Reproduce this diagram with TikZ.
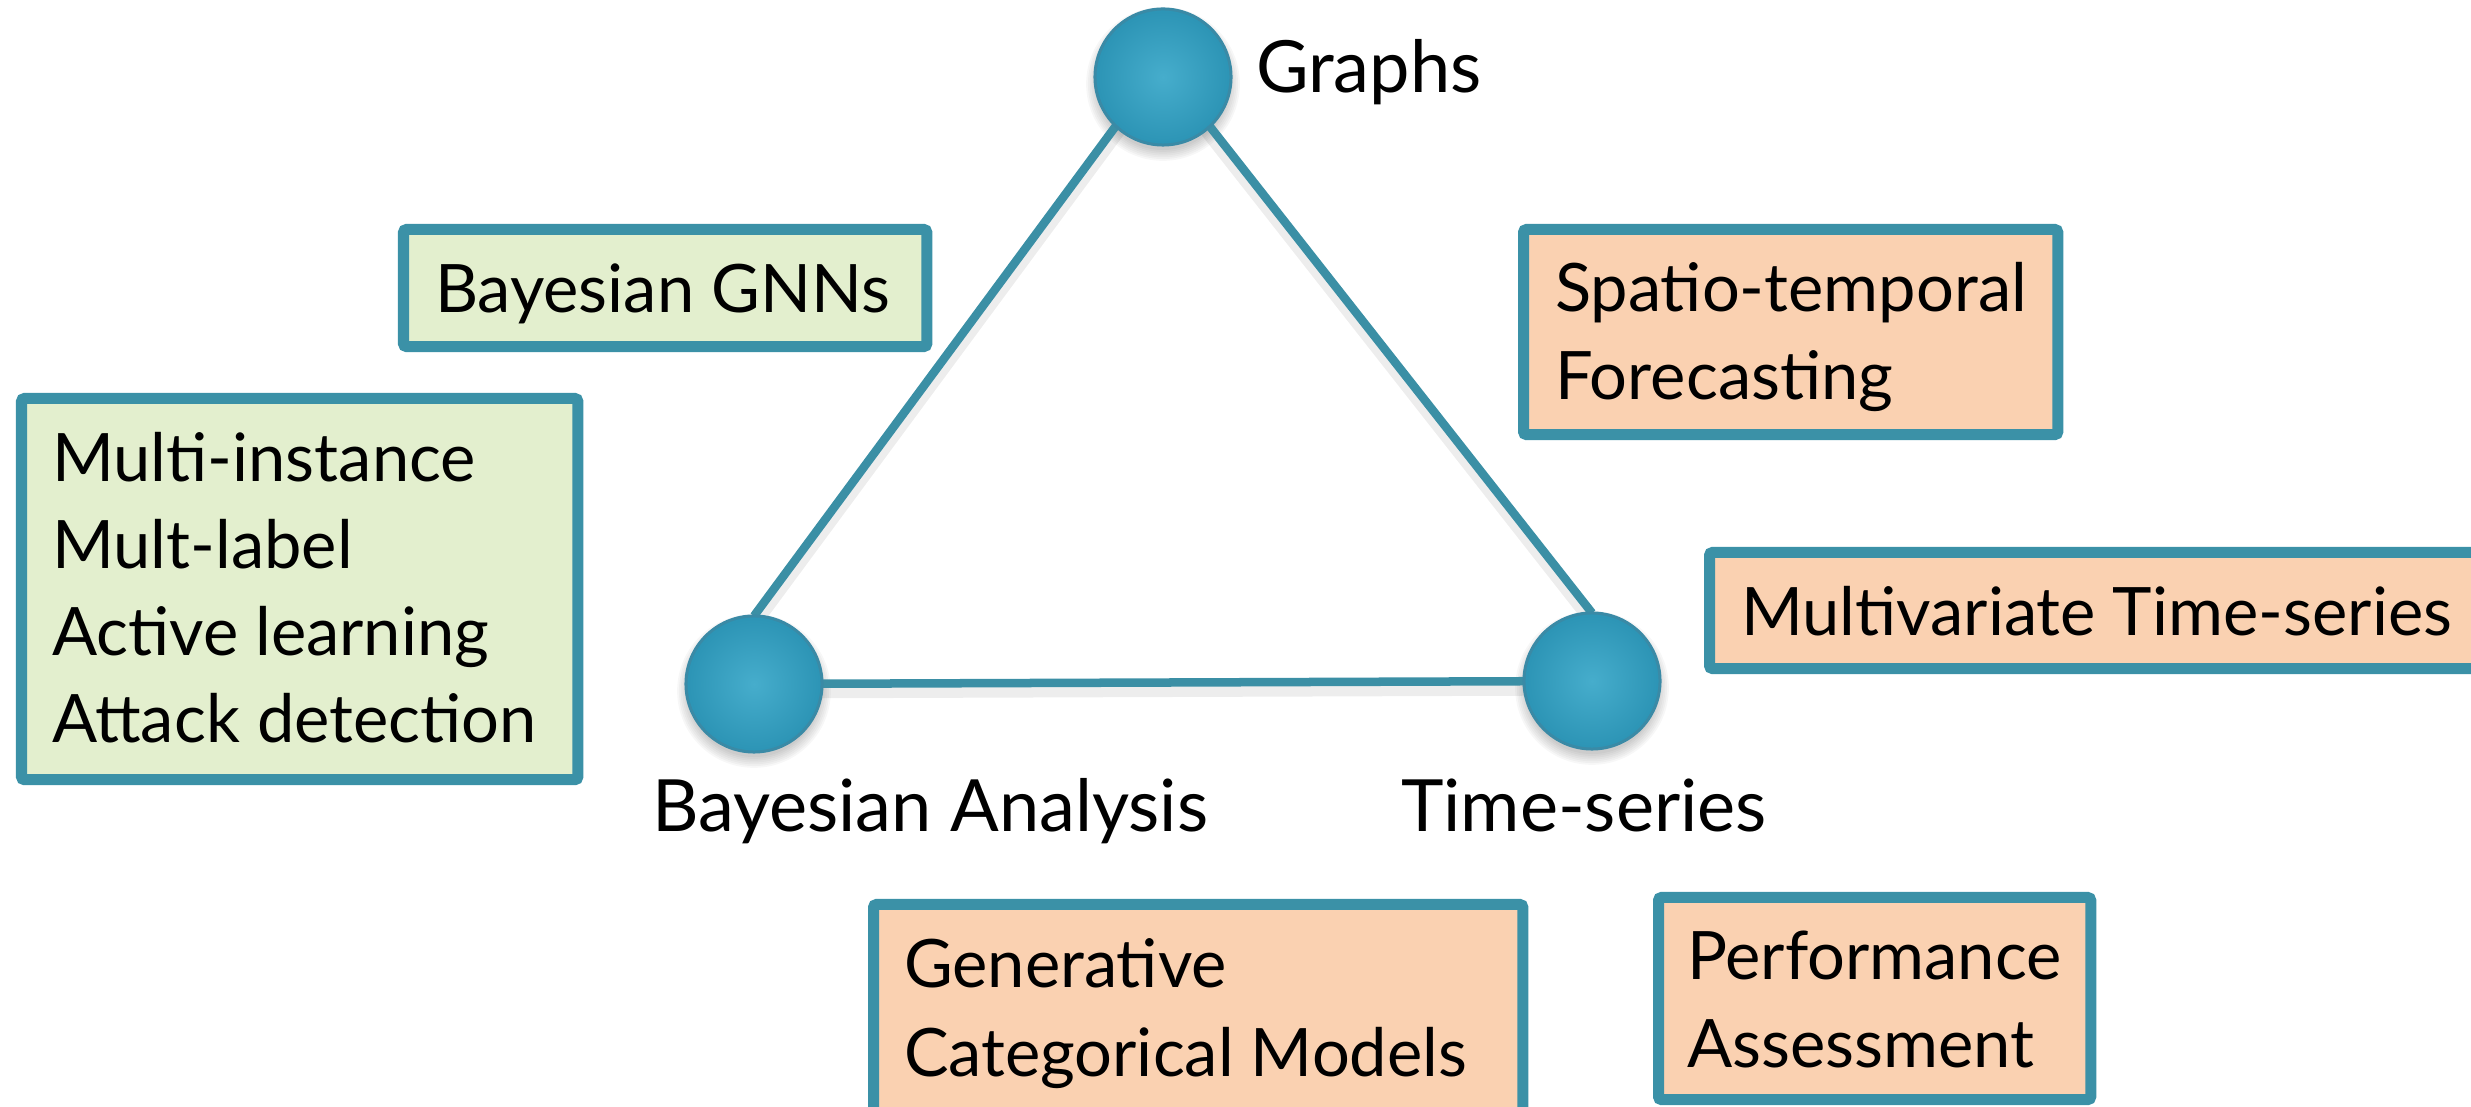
\documentclass[tikz,border=0pt]{standalone}
\usepackage{fontspec}
\setmainfont{Lato}
\usetikzlibrary{backgrounds}
\definecolor{frame}{HTML}{3B91A7}
\definecolor{greenfill}{HTML}{E3EFCE}
\definecolor{orangefill}{HTML}{FAD1B1}
\definecolor{hublight}{HTML}{46ADCC}
\definecolor{hubdark}{HTML}{2C94B5}
\definecolor{hubedge}{HTML}{3A8AA6}
\definecolor{linkc}{HTML}{3B8FA5}
\begin{document}
\begin{tikzpicture}[x=0.01cm,y=-0.01cm,
  every node/.style={font=\fontsize{19}{25}\selectfont, inner sep=0pt, outer sep=0pt},
  txt/.style={anchor=base west},
  toplabel/.style={anchor=base west, font=\fontsize{20.5}{25}\selectfont},
  hub/.style={circle, minimum size=1.36cm, draw=hubedge, line width=0.03cm,
    inner color=hublight, outer color=hubdark},
  link/.style={draw=linkc, line width=0.085cm},
  linkshade/.style={draw=black, opacity=0.07, line width=0.15cm},
  panel/.style={draw=frame, line width=0.11cm, rounded corners=0.03cm, anchor=north west},
  greenbox/.style={panel, fill=greenfill},
  orangebox/.style={panel, fill=orangefill}]
\clip (0,0) rectangle (2471,1107);

% the three topics
\node[hub] (G)  at (1163,77)  {};
\node[hub] (BA) at (754,684)  {};
\node[hub] (TS) at (1592,681) {};

\begin{scope}[on background layer]
  % soft shadows under the hubs
  \foreach \h in {G,BA,TS}{
    \foreach \k in {0,...,6}{
      \fill[black, opacity=0.03] ([yshift=-0.07cm]\h.center) circle[radius=0.66cm+\k*0.018cm];
    }
  }
  % shadows under the edges
  \begin{scope}[transform canvas={yshift=-0.07cm}]
    \draw[linkshade] ([xshift=-0.11cm]G.center) -- (BA.north);
    \draw[linkshade] ([xshift=0.08cm]G.center) -- (TS.north);
    \draw[linkshade] (BA.center) -- (TS.center);
  \end{scope}
  % edges of the triangle
  \draw[link] ([xshift=-0.11cm]G.center) -- (BA.north);
  \draw[link] ([xshift=0.08cm]G.center) -- (TS.north);
  \draw[link] (BA.center) -- (TS.center);
\end{scope}

% topic labels
\node[toplabel] (lG)  at (1256,93)  {Graphs};
\node[toplabel] (lBA) at (652,832)  {Bayesian Analysis};
\node[toplabel] (lTS) at (1401,832) {Time-series};

% Bayesian / graph topics
\node[greenbox, minimum width=5.23cm, minimum height=1.17cm] (bgnn) at (403.5,229.5) {};
\node[txt] (tbgnn) at (435,313) {Bayesian GNNs};

\node[greenbox, minimum width=5.56cm, minimum height=3.81cm] (misc) at (21.5,398.5) {};
\node[txt] (tm1) at (52,482) {Multi-instance};
\node[txt] (tm2) at (52,569) {Mult-label};
\node[txt] (tm3) at (52,656) {Active learning};
\node[txt] (tm4) at (52,743) {Attack detection};

% time-series topics
\node[orangebox, minimum width=5.34cm, minimum height=2.05cm] (stf) at (1523.5,229.5) {};
\node[txt] (ts1) at (1555,312) {Spatio-temporal};
\node[txt] (ts2) at (1555,400) {Forecasting};

\node[orangebox, minimum width=9cm, minimum height=1.16cm] (mts) at (1709.5,552.5) {};
\node[txt] (tmts) at (1741,636) {Multivariate Time-series};

\node[orangebox, minimum width=6.49cm, minimum height=3cm] (gcm) at (873.5,904.5) {};
\node[txt] (tg1) at (904,988)  {Generative};
\node[txt] (tg2) at (904,1077) {Categorical Models};

\node[orangebox, minimum width=4.32cm, minimum height=2.02cm] (pa) at (1658.5,897.5) {};
\node[txt] (tp1) at (1687,980)  {Performance};
\node[txt] (tp2) at (1687,1068) {Assessment};
\end{tikzpicture}
\end{document}
